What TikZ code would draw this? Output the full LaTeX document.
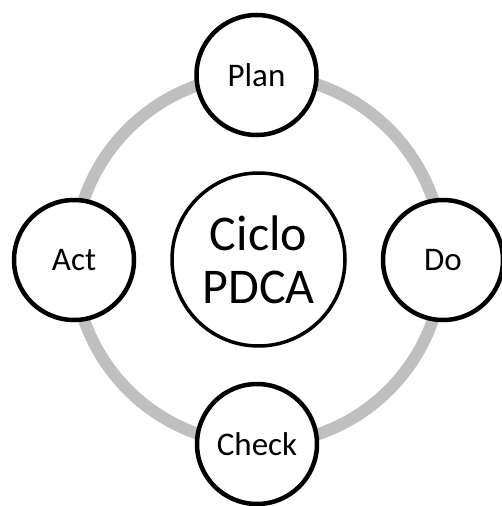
\documentclass[tikz,border=0pt]{standalone}
\usepackage{fontspec}
\setmainfont{Carlito}
\definecolor{ringgray}{RGB}{191,191,191}
\begin{document}
\begin{tikzpicture}[x=1pt,y=-1pt,
  stage/.style={circle,draw=black,line width=4.5pt,fill=white,inner sep=0pt,
    minimum size=120pt,font=\fontsize{33}{39}\selectfont},
  hub/.style={circle,draw=black,line width=3.5pt,fill=white,inner sep=0pt,
    minimum size=173pt,align=center,font=\fontsize{50}{53}\selectfont}]
  \useasboundingbox[fill=white] (0,0) rectangle (502,506);
  % cycle ring behind the stages
  \coordinate (c) at (258.5,259.5);
  \draw[ringgray,line width=12pt] (c) circle[radius=184.5];
  \node[hub] (hubnode) at (c) {Ciclo\\PDCA};
  \node[stage] (plan) at (256.5,75) {Plan};
  \node[stage] (do) at (443,260) {Do};
  \node[stage] (check) at (257,444) {Check};
  \node[stage] (act) at (74,260) {Act};
\end{tikzpicture}
\end{document}
